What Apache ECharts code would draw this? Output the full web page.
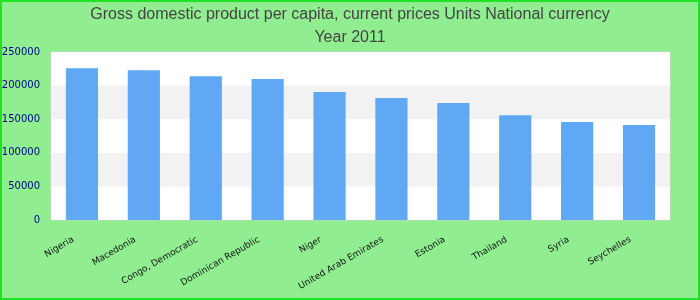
<!DOCTYPE html>
<html><head><meta charset="utf-8">
<script src="https://cdn.jsdelivr.net/npm/echarts@6/dist/echarts.min.js"></script>
<style>html,body{margin:0;padding:0;}#c{width:700px;height:300px;}</style>
</head><body><div id="c"></div>
<script>
const categories = ["Nigeria","Macedonia","Congo, Democratic","Dominican Republic","Niger","United Arab Emirates","Estonia","Thailand","Syria","Seychelles"];
const values = [226000,223000,214000,210000,190500,181500,174000,156000,146000,141500];
const titleLines = ["Gross domestic product per capita, current prices Units National currency","Year 2011"];

const chart = echarts.init(document.getElementById('c'), null, {renderer:'canvas'});
chart.setOption({
  backgroundColor:'#90ee90',
  animation:false,
  title:{
    text:titleLines.join('\n'),
    left:'center', top:-2,
    textStyle:{fontFamily:'Liberation Sans', fontSize:16, fontWeight:'normal', color:'#444', lineHeight:23}
  },
  graphic:[{type:'rect', shape:{x:1,y:1,width:698,height:298}, style:{fill:'none', stroke:'#22e022', lineWidth:2}, z:100}],
  grid:{left:51, right:30, top:52, bottom:80, show:true, backgroundColor:'#fff', borderColor:'#d0d0d0', borderWidth:1, containLabel:false, outerBoundsMode:'none'},
  xAxis:{
    type:'category', data:categories,
    axisLine:{show:false}, axisTick:{show:false},
    axisLabel:{rotate:30, interval:0, fontFamily:'DejaVu Sans', fontSize:9, color:'#111', margin:14, padding:[0,10,0,0]}
  },
  yAxis:{
    type:'value', min:0, max:250000, interval:50000,
    axisLine:{show:false}, axisTick:{show:false},
    splitLine:{show:false},
    splitArea:{show:true, areaStyle:{color:['#ffffff','#f2f2f2']}},
    axisLabel:{fontFamily:'DejaVu Sans', fontSize:10, color:'#00008b', margin:11, formatter:function(v){return String(v);}}
  },
  series:[{type:'bar', data:values, barWidth:'52%', itemStyle:{color:'#61a8f4'}}]
});
</script></body></html>
